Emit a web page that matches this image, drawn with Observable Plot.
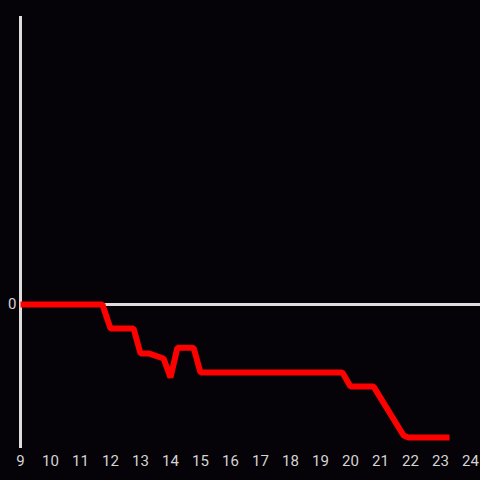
<!DOCTYPE html>
<html>
<head>
<meta charset="utf-8">
<script src="https://cdn.jsdelivr.net/npm/d3@7"></script>
<script src="https://cdn.jsdelivr.net/npm/@observablehq/plot@0.6"></script>
<style>
  html, body { margin: 0; padding: 0; background: #050307; }
  #chart svg { display: block; }
</style>
</head>
<body>
<div id="chart"></div>
<script>
const hours = [9, 11.73, 12.0, 12.77, 13.0, 13.27, 13.77, 14.0, 14.23, 14.77, 15.0, 19.73, 20.0, 20.77, 21.77, 21.93, 23.3];
const values = [0, 0, -0.167, -0.167, -0.34, -0.34, -0.375, -0.507, -0.3, -0.3, -0.472, -0.472, -0.57, -0.57, -0.91, -0.924, -0.924];
const xTicks = [9, 10, 11, 12, 13, 14, 15, 16, 17, 18, 19, 20, 21, 22, 23, 24];
const yTicks = [0];

const data = hours.map((h, i) => ({ x: h, y: values[i] }));

const chart = Plot.plot({
  width: 480,
  height: 480,
  marginLeft: 20,
  marginRight: 0,
  marginTop: 16,
  marginBottom: 32,
  style: { background: "#050307", color: "#d4d4d4", fontFamily: "Roboto, sans-serif", fontSize: "15px" },
  x: { domain: [9, 24.3333], ticks: xTicks, tickFormat: d3.format("d"), tickSize: 0, tickPadding: 7, label: null },
  y: { domain: [-1, 2], ticks: yTicks, tickFormat: d3.format("d"), tickSize: 0, tickPadding: 4, label: null },
  marks: [
    Plot.ruleY([0], { stroke: "#dddddd", strokeWidth: 3 }),
    Plot.ruleX([9], { stroke: "#dddddd", strokeWidth: 3 }),
    Plot.line(data, { x: "x", y: "y", stroke: "#ff0000", strokeWidth: 6, strokeLinejoin: "miter", strokeLinecap: "butt" })
  ]
});
document.getElementById("chart").appendChild(chart);
</script>
</body>
</html>
